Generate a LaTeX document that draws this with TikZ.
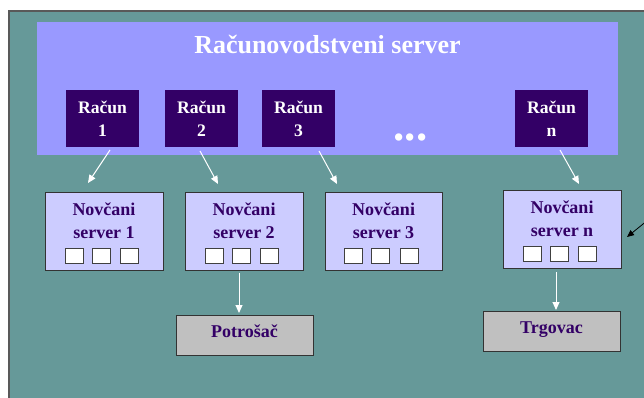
\documentclass[tikz,border=0pt]{standalone}
\usepackage{fontspec}
\setmainfont{Liberation Serif}
\usetikzlibrary{arrows.meta,calc}
\definecolor{tealbg}{HTML}{669999}
\definecolor{panelc}{HTML}{9999FF}
\definecolor{acct}{HTML}{330066}
\definecolor{lav}{HTML}{CCCCFF}
\definecolor{grayb}{HTML}{C0C0C0}
\begin{document}
\begin{tikzpicture}[x=1pt,y=-1pt,
  racun/.style={rectangle, fill=acct, text=white, font=\bfseries\fontsize{17.6}{23}\selectfont, align=center, minimum width=73pt, minimum height=57pt, inner sep=0pt, outer sep=0pt},
  novbox/.style={rectangle, fill=lav, draw=black!80, line width=0.9pt, minimum width=118pt, minimum height=78pt, inner sep=0pt, outer sep=0pt},
  novtext/.style={text=acct, font=\bfseries\fontsize{18}{23}\selectfont, align=center, inner sep=0pt},
  slot/.style={rectangle, fill=white, draw=black!75, line width=0.9pt, minimum width=18pt, minimum height=15pt, inner sep=0pt},
  endbox/.style={rectangle, fill=grayb, draw=black!80, line width=0.9pt, minimum width=137pt, minimum height=40pt, text=acct, font=\bfseries\fontsize{18}{22}\selectfont, text height=12pt, text depth=8pt, inner sep=0pt, outer sep=0pt},
  wflow/.style={draw=white, line width=1pt, -{Triangle[length=8pt,width=7pt]}},
  bflow/.style={draw=black, line width=0.8pt, -{Triangle[length=7pt,width=6pt]}},
  ]
\useasboundingbox (0,0) rectangle (644,398);
\fill[white] (0,0) rectangle (644,398);
\path[fill=tealbg, draw=black!65, line width=1.5pt] (9,11) rectangle (660,410);
% panel
\node[rectangle, fill=panelc, minimum width=581pt, minimum height=133pt, inner sep=0pt, outer sep=0pt] (panel) at (327.5,88.5) {};
\node[text=white, font=\bfseries\fontsize{26}{30}\selectfont, inner sep=0pt] (title) at (327.5,44) {Računovodstveni server};
% accounts
\node[racun] (r1) at (102.5,118.5) {Račun\\1};
\node[racun] (r2) at (201.5,118.5) {Račun\\2};
\node[racun] (r3) at (298.5,118.5) {Račun\\3};
\node[racun] (rn) at (551.5,118.5) {Račun\\n};
\node[anchor=base, text=white, font=\bfseries\fontsize{45}{48}\selectfont, inner sep=0pt] (dots) at (410.5,141) {...};
% money servers
\node[novbox] (n1) at (104,231) {};
\node[novbox, minimum width=118pt] (n2) at (244,231) {};
\node[novbox, minimum width=117pt] (n3) at (383.5,231) {};
\node[novbox] (nn) at (562,229) {};
\foreach \b/\lab in {n1/1, n2/2, n3/3, nn/n}{
  \node[novtext] (\b t) at ($(\b.center)+(0,-10.5)$) {Novčani\\server \lab};
  \node[slot] (\b s1) at ($(\b.center)+(-30,24.5)$) {};
  \node[slot] (\b s2) at ($(\b.center)+(-3,24.5)$) {};
  \node[slot] (\b s3) at ($(\b.center)+(25.5,24.5)$) {};
}
% end boxes
\node[endbox] (p) at (244.5,335) {Potrošač};
\node[endbox] (t) at (551.5,331) {Trgovac};
% connectors
\draw[wflow] ($(r1.south)+(7.5,3)$) -- ($(n1.north)+(-16,-9)$);
\draw[wflow] ($(r2.south)+(-1.5,4)$) -- ($(n2.north)+(-26,-8)$);
\draw[wflow] ($(r3.south)+(20.5,4)$) -- ($(n3.north)+(-46.5,-8)$);
\draw[wflow] ($(rn.south)+(8.5,3)$) -- ($(nn.north)+(17,-6)$);
\draw[wflow] ($(n2.south)+(-5,3)$) -- ($(p.north)+(-5.5,-2)$);
\draw[wflow] ($(nn.south)+(-6,4)$) -- ($(t.north)+(4.5,-1)$);
\coordinate (ext) at (648,220);
\draw[bflow] (ext) -- ($(nn.east)+(6,8)$);
\end{tikzpicture}
\end{document}
